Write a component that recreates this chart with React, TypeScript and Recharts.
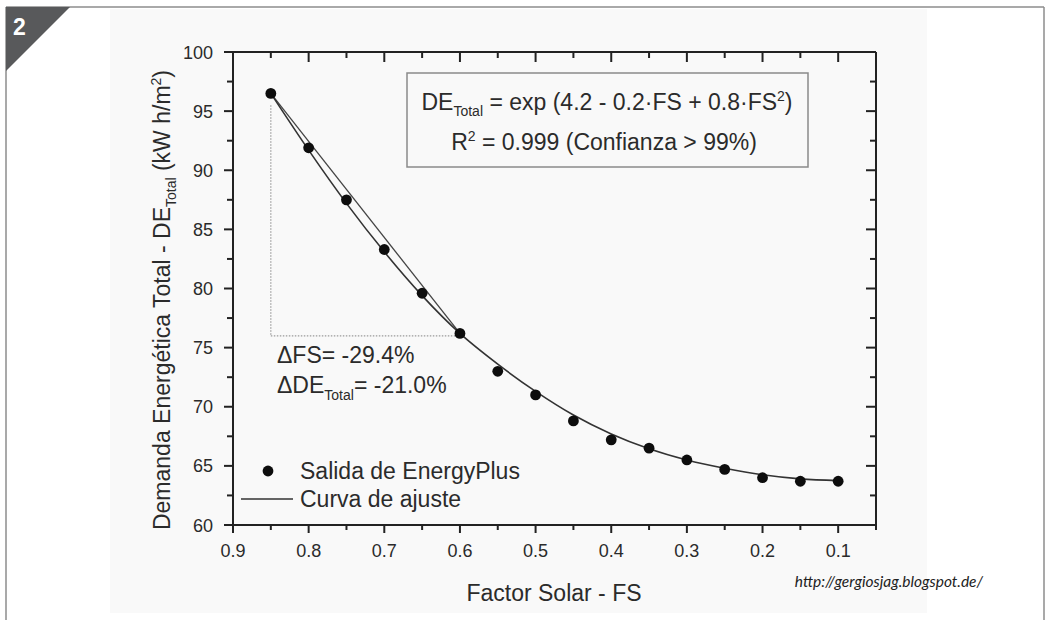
import React from 'react';
import { ComposedChart, XAxis, YAxis, Line, Scatter, ReferenceLine } from 'recharts';

// ---------- data ----------
const FS_VALUES = [0.85, 0.8, 0.75, 0.7, 0.65, 0.6, 0.55, 0.5, 0.45, 0.4, 0.35, 0.3, 0.25, 0.2, 0.15, 0.1];
const SALIDA_ENERGYPLUS = [96.5, 91.9, 87.5, 83.3, 79.6, 76.2, 73.0, 71.0, 68.8, 67.2, 66.5, 65.5, 64.7, 64.0, 63.7, 63.7];
const CURVA_AJUSTE = [96.5, 91.7, 87.2, 83.1, 79.4, 76.2, 73.6, 71.3, 69.3, 67.7, 66.45, 65.5, 64.8, 64.25, 63.9, 63.75];
const CHORD_FS = [0.85, 0.6];
const CHORD_DE = [96.5, 76.2];
const GUIDE_FS = [0.85, 0.85, 0.6];
const GUIDE_DE = [95.5, 76.0, 76.0];
const X_TICKS = [0.05, 0.1, 0.15, 0.2, 0.25, 0.3, 0.35, 0.4, 0.45, 0.5, 0.55, 0.6, 0.65, 0.7, 0.75, 0.8, 0.85, 0.9];
const Y_TICKS = [60, 62.5, 65, 67.5, 70, 72.5, 75, 77.5, 80, 82.5, 85, 87.5, 90, 92.5, 95, 97.5, 100];
const X_DOMAIN = [0.05, 0.9];
const Y_DOMAIN = [60, 100];

const points = FS_VALUES.map((fs, i) => ({ fs, de: SALIDA_ENERGYPLUS[i] }));
const curve = FS_VALUES.map((fs, i) => ({ fs, de: CURVA_AJUSTE[i] }));
const chord = CHORD_FS.map((fs, i) => ({ fs, de: CHORD_DE[i] }));

// ---------- style ----------
const FONT = '"Liberation Sans", Arial, Helvetica, sans-serif';
const AX = '#222';
const TXT = '#2b2b2b';
const FS_MAIN = 23;
const FS_SUB = 14;

const isMajorX = (v: number) => Math.abs(Math.round(v * 10) - v * 10) < 1e-6;
const isMajorY = (v: number) => Math.abs(v % 5) < 1e-6;

const BottomTick = (p: any) => {
  const v = p.payload.value;
  const major = isMajorX(v);
  return (
    <g>
      <line x1={p.x} x2={p.x} y1={p.y} y2={p.y + (major ? 8 : 5)} stroke={AX} strokeWidth={2} />
      {major && v > 0.06 && (
        <text x={p.x} y={p.y + 32} textAnchor="middle" fontSize={18} fontFamily={FONT} fill={TXT}>
          {v.toFixed(1)}
        </text>
      )}
    </g>
  );
};

const TopTick = (p: any) => {
  const v = p.payload.value;
  const major = isMajorX(v);
  return <line x1={p.x} x2={p.x} y1={p.y} y2={p.y + (major ? 10 : 6)} stroke={AX} strokeWidth={2} />;
};

const LeftTick = (p: any) => {
  const v = p.payload.value;
  const major = isMajorY(v);
  return (
    <g>
      <line x1={p.x - (major ? 9 : 6)} x2={p.x} y1={p.y} y2={p.y} stroke={AX} strokeWidth={2} />
      {major && (
        <text x={p.x - 20} y={p.y + 6.5} textAnchor="end" fontSize={18} fontFamily={FONT} fill={TXT}>
          {String(v)}
        </text>
      )}
    </g>
  );
};

const RightTick = (p: any) => {
  const v = p.payload.value;
  const major = isMajorY(v);
  return <line x1={p.x - (major ? 10 : 6)} x2={p.x} y1={p.y} y2={p.y} stroke={AX} strokeWidth={2} />;
};

const Dot = (p: any) => <circle cx={p.cx} cy={p.cy} r={5.4} fill="#0d0d0d" />;

export default function App() {
  return (
    <div style={{ position: 'absolute', left: 0, top: 0, width: 1046, height: 620, background: '#fff' }}>
      <svg width={1046} height={620} style={{ position: 'absolute', left: 0, top: 0 }}>
        <rect x={110} y={9} width={817} height={604} fill="#f9f9f9" />
        <line x1={6} x2={1044} y1={7} y2={7} stroke="#8c8c8c" strokeWidth={1.5} />
        <line x1={6} x2={6} y1={7} y2={620} stroke="#8c8c8c" strokeWidth={1.5} />
        <line x1={1044} x2={1044} y1={7} y2={620} stroke="#8c8c8c" strokeWidth={1.5} />
        <polygon points="6,7 70,7 6,71" fill="#58595b" />
        <text x={13} y={35} fontSize={23} fontWeight="bold" fontFamily={FONT} fill="#fff">2</text>
      </svg>

      <div style={{ position: 'absolute', left: 0, top: 0 }}>
        <ComposedChart width={1046} height={620} margin={{ top: 22, right: 110, bottom: 65, left: 173 }}>
          <XAxis
            xAxisId="b"
            type="number"
            dataKey="fs"
            domain={X_DOMAIN}
            reversed
            ticks={X_TICKS}
            interval={0}
            height={30}
            tickSize={0}
            tickMargin={0}
            tickLine={false}
            tick={BottomTick}
            axisLine={{ stroke: AX, strokeWidth: 2 }}
            allowDataOverflow
          />
          <XAxis
            xAxisId="t"
            orientation="top"
            type="number"
            dataKey="fs"
            domain={X_DOMAIN}
            reversed
            ticks={X_TICKS}
            interval={0}
            height={30}
            tickSize={0}
            tickMargin={0}
            tickLine={false}
            tick={TopTick}
            axisLine={{ stroke: AX, strokeWidth: 2 }}
            allowDataOverflow
          />
          <YAxis
            yAxisId="l"
            type="number"
            domain={Y_DOMAIN}
            ticks={Y_TICKS}
            interval={0}
            width={60}
            tickSize={0}
            tickMargin={0}
            tickLine={false}
            tick={LeftTick}
            axisLine={{ stroke: AX, strokeWidth: 2 }}
            allowDataOverflow
          />
          <YAxis
            yAxisId="r"
            orientation="right"
            type="number"
            domain={Y_DOMAIN}
            ticks={Y_TICKS}
            interval={0}
            width={60}
            tickSize={0}
            tickMargin={0}
            tickLine={false}
            tick={RightTick}
            axisLine={{ stroke: AX, strokeWidth: 2 }}
            allowDataOverflow
          />
          <ReferenceLine
            xAxisId="b"
            yAxisId="l"
            segment={[{ x: GUIDE_FS[0], y: GUIDE_DE[0] }, { x: GUIDE_FS[1], y: GUIDE_DE[1] }]}
            stroke="#9a9a9a"
            strokeWidth={1.2}
            strokeDasharray="1.5 1.5"
            ifOverflow="visible"
          />
          <ReferenceLine
            xAxisId="b"
            yAxisId="l"
            segment={[{ x: GUIDE_FS[1], y: GUIDE_DE[1] }, { x: GUIDE_FS[2], y: GUIDE_DE[2] }]}
            stroke="#9a9a9a"
            strokeWidth={1.2}
            strokeDasharray="1.5 1.5"
            ifOverflow="visible"
          />
          <Line
            xAxisId="b"
            yAxisId="l"
            data={chord}
            dataKey="de"
            type="linear"
            stroke="#444"
            strokeWidth={1.3}
            dot={false}
            isAnimationActive={false}
          />
          <Line
            xAxisId="b"
            yAxisId="l"
            data={curve}
            dataKey="de"
            type="monotone"
            stroke="#333"
            strokeWidth={1.6}
            dot={false}
            isAnimationActive={false}
          />
          <Scatter
            xAxisId="b"
            yAxisId="l"
            data={points}
            dataKey="de"
            fill="#0d0d0d"
            shape={Dot}
            isAnimationActive={false}
          />
        </ComposedChart>
      </div>

      <svg width={1046} height={620} style={{ position: 'absolute', left: 0, top: 0, pointerEvents: 'none' }}>
        <g fontFamily={FONT} fill={TXT}>
          {/* formula box */}
          <rect x={407} y={73} width={401} height={94} fill="none" stroke="#8a8a8a" strokeWidth={1.5} />
          <text x={607} y={110} textAnchor="middle" fontSize={FS_MAIN}>
            DE
            <tspan fontSize={FS_SUB} dy={6}>Total</tspan>
            <tspan dy={-6}>{' = exp (4.2 - 0.2·FS + 0.8·FS'}</tspan>
            <tspan fontSize={FS_SUB} dy={-9}>2</tspan>
            <tspan dy={9}>)</tspan>
          </text>
          <text x={604} y={150} textAnchor="middle" fontSize={FS_MAIN}>
            R
            <tspan fontSize={FS_SUB} dy={-9}>2</tspan>
            <tspan dy={9}>{' = 0.999 (Confianza > 99%)'}</tspan>
          </text>

          {/* delta annotations */}
          <text x={277} y={363} fontSize={FS_MAIN}>ΔFS= -29.4%</text>
          <text x={277} y={393} fontSize={FS_MAIN}>
            ΔDE
            <tspan fontSize={FS_SUB} dy={7}>Total</tspan>
            <tspan dy={-7}>= -21.0%</tspan>
          </text>

          {/* legend */}
          <circle cx={268} cy={471} r={5.4} fill="#0d0d0d" />
          <text x={300} y={479} fontSize={FS_MAIN}>Salida de EnergyPlus</text>
          <line x1={241} x2={293} y1={499} y2={499} stroke="#333" strokeWidth={1.6} />
          <text x={300} y={507} fontSize={FS_MAIN}>Curva de ajuste</text>

          {/* axis titles */}
          <text x={554} y={601} textAnchor="middle" fontSize={FS_MAIN}>Factor Solar - FS</text>
          <text transform="translate(170,300) rotate(-90)" textAnchor="middle" fontSize={FS_MAIN}>
            Demanda Energética Total - DE
            <tspan fontSize={FS_SUB} dy={6}>Total</tspan>
            <tspan dy={-6}>{' (kW h/m'}</tspan>
            <tspan fontSize={FS_SUB} dy={-9}>2</tspan>
            <tspan dy={9}>)</tspan>
          </text>

          {/* watermark */}
          <text x={983} y={587} textAnchor="end" fontSize={15.5} fontStyle="italic" fontFamily="Lato, 'Open Sans', sans-serif" fill="#222">
            http://gergiosjag.blogspot.de/
          </text>
        </g>
      </svg>
    </div>
  );
}
